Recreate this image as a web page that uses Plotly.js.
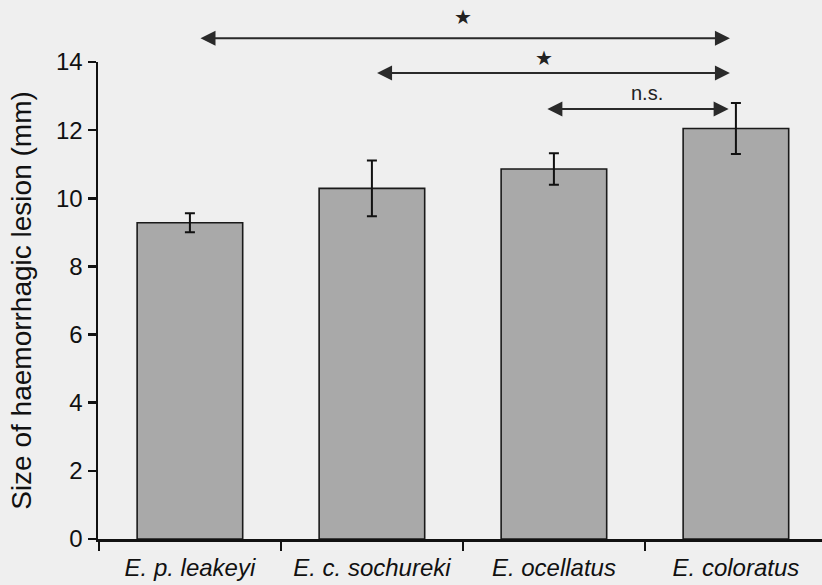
<!DOCTYPE html>
<html><head><meta charset="utf-8">
<script src="https://cdn.plot.ly/plotly-3.0.1.min.js"></script>
<style>html,body{margin:0;padding:0;background:#efefef}</style>
</head><body><div id="chart" style="width:822px;height:585px"></div>
<script>
// Data
const species = ['E. p. leakeyi', 'E. c. sochureki', 'E. ocellatus', 'E. coloratus'];
const lesionSize = [9.28, 10.29, 10.86, 12.05];
const lesionSE = [0.28, 0.82, 0.46, 0.75];
// Significance comparisons (category index positions, y in mm)
const compFrom = [0.05, 1.02, 1.956];
const compTo = [2.967, 2.967, 2.96];
const compLevel = [14.70, 13.68, 12.62];
const compLabel = ['\u2605', '\u2605', 'n.s.'];
const compLabelX = [1.5, 1.945, 2.51];
const compLabelLevel = [15.32, 14.12, 13.09];
const yMax = 14;

const font = 'Liberation Sans, Arial, Helvetica, sans-serif';

const trace = {
  type: 'bar',
  x: species,
  y: lesionSize,
  marker: {color: '#a9a9a9', line: {color: '#1a1a1a', width: 1.6}},
  error_y: {type: 'data', array: lesionSE, visible: true, color: '#111', thickness: 2, width: 5},
  hoverinfo: 'none'
};

const annotations = [];
for (let i = 0; i < compFrom.length; i++) {
  annotations.push({
    xref: 'x', yref: 'paper', x: compTo[i], y: compLevel[i] / yMax,
    axref: 'x', ayref: 'pixel', ax: compFrom[i], ay: 0,
    showarrow: true, arrowside: 'end+start', arrowhead: 2, arrowsize: 1.5,
    arrowwidth: 2, arrowcolor: '#2a2a2a', standoff: 0, startstandoff: 0, text: ''
  });
  const isStar = compLabel[i] !== 'n.s.';
  annotations.push({
    xref: 'x', yref: 'paper', x: compLabelX[i], y: compLabelLevel[i] / yMax,
    text: compLabel[i], showarrow: false, xanchor: 'center', yanchor: 'middle',
    font: {family: isStar ? 'DejaVu Sans, sans-serif' : font, size: 20, color: '#222'}
  });
}

const layout = {
  width: 822, height: 585,
  margin: {l: 98, r: 0, t: 62, b: 46},
  paper_bgcolor: '#efefef', plot_bgcolor: '#efefef',
  showlegend: false,
  bargap: 0.42,
  font: {family: font, color: '#111'},
  xaxis: {
    type: 'category', range: [-0.505, 3.473], tickson: 'boundaries',
    ticks: 'outside', ticklen: 9, tickwidth: 2.5, tickcolor: '#111',
    showline: true, linecolor: '#111', linewidth: 2.5, showgrid: false, zeroline: false,
    ticklabelstandoff: 6,
    tickfont: {family: font, size: 24, style: 'italic', color: '#111'}
  },
  yaxis: {
    range: [0, yMax], dtick: 2, tick0: 0,
    ticks: 'outside', ticklen: 8, tickwidth: 2.5, tickcolor: '#111',
    showline: true, linecolor: '#111', linewidth: 2.5, showgrid: false, zeroline: false,
    tickfont: {family: font, size: 24, color: '#111'},
    title: {text: 'Size of haemorrhagic lesion (mm)', font: {family: font, size: 28, color: '#111'}, standoff: 16}
  },
  annotations: annotations
};

Plotly.newPlot('chart', [trace], layout, {displayModeBar: false, staticPlot: true});
</script></body></html>
